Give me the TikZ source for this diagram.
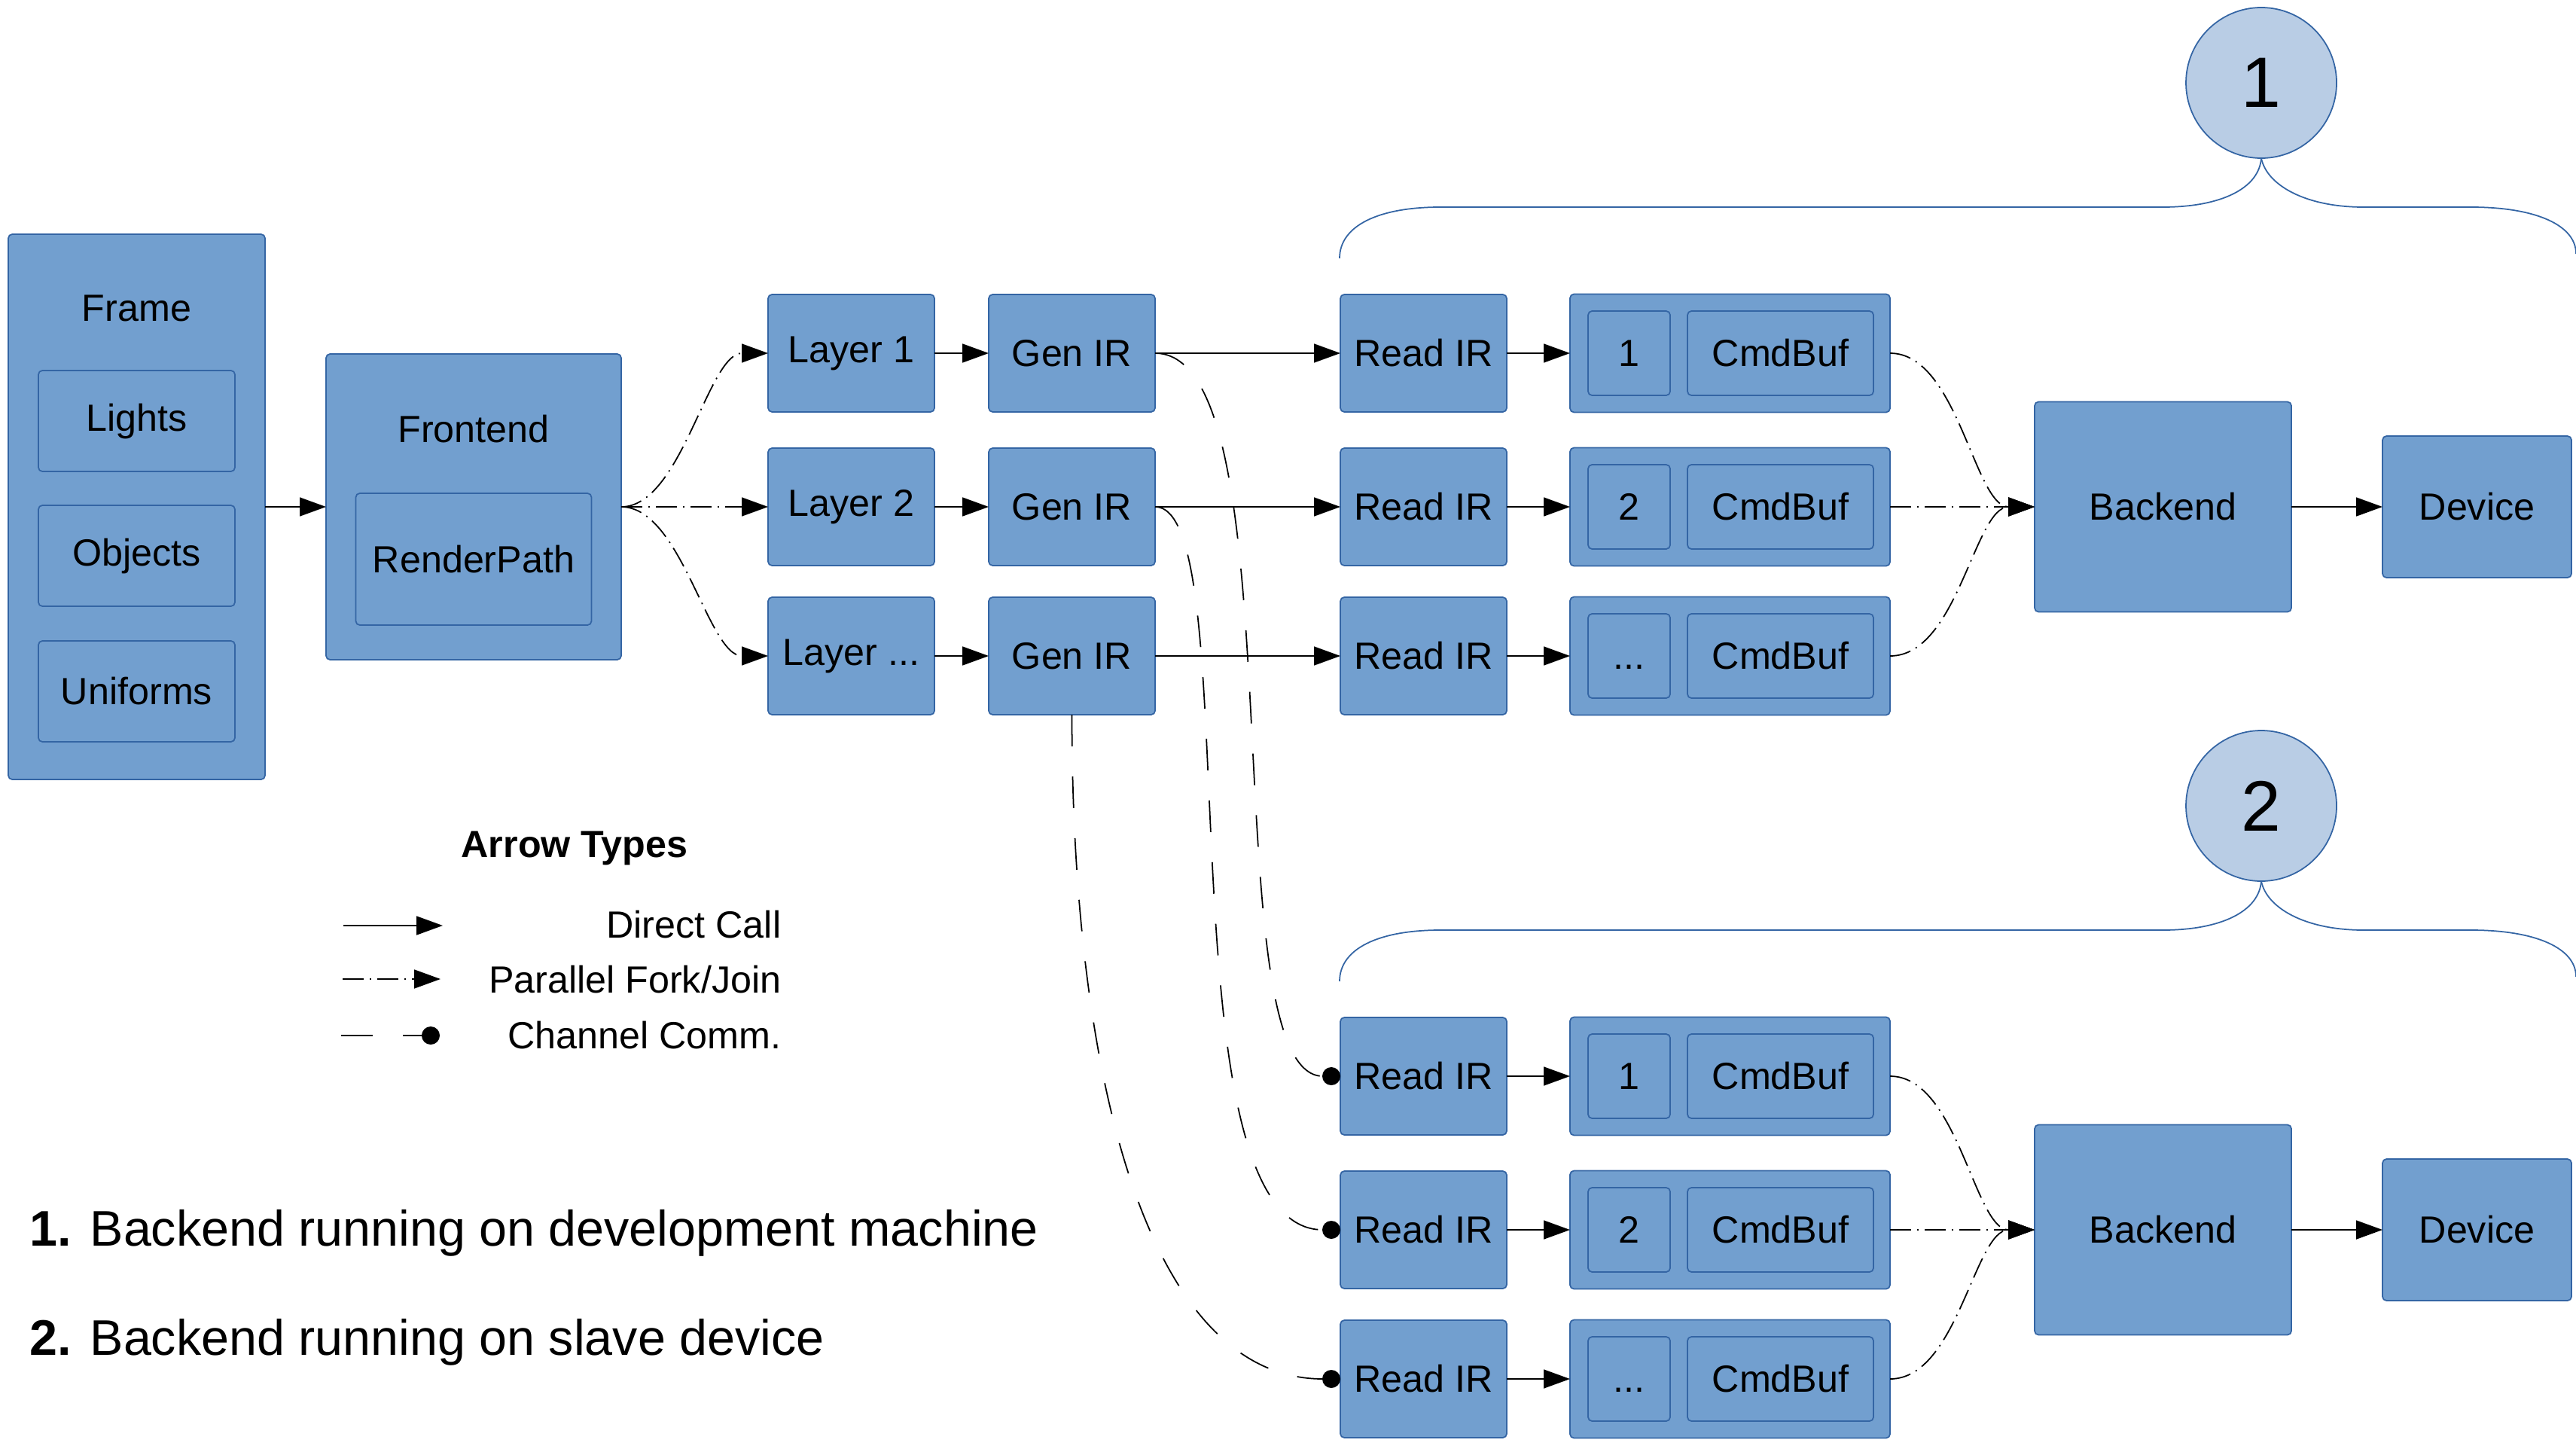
\documentclass[tikz,border=0pt]{standalone}
\usepackage{fontspec}
\setmainfont{Liberation Sans}
\usetikzlibrary{arrows.meta,positioning}

\definecolor{boxblue}{HTML}{729FCF}
\definecolor{lineblue}{HTML}{3465A4}
\definecolor{markblue}{HTML}{B9CDE5}

\tikzset{
  blk/.style={draw=lineblue, fill=boxblue, line width=0.5pt, rounded corners=1.5pt, inner sep=0pt, outer sep=0pt},
  stagebox/.style={blk, minimum width=2.21cm, minimum height=1.56cm},
  inbox/.style={blk, minimum width=2.61cm, minimum height=1.34cm},
  cmdbox/.style={blk, minimum width=4.25cm, minimum height=1.57cm},
  numbox/.style={blk, minimum width=1.09cm, minimum height=1.12cm, text height=10.2pt, text depth=0pt},
  bufbox/.style={blk, minimum width=2.47cm, minimum height=1.12cm},
  machine/.style={circle, draw=lineblue, fill=markblue, line width=0.5pt, minimum size=2cm,
    inner sep=0pt, outer sep=0pt, font=\fontsize{27}{32}\selectfont},
  txt/.style={inner sep=0pt},
  call/.style={->, line width=0.5pt},
  fork/.style={->, line width=0.5pt, dash pattern=on 0.28cm off 0.08cm on 0.02cm off 0.08cm},
  chan/.style={-{Circle[length=0.24cm,width=0.24cm]}, line width=0.5pt, dash pattern=on 0.42cm off 0.4cm},
  braceline/.style={draw=lineblue, line width=0.5pt}
}

\begin{document}
\begin{tikzpicture}[>={Triangle[length=0.35cm,width=0.25cm]}, node distance=1cm,
    font=\fontsize{14.3}{17}\selectfont]
\useasboundingbox (0,0) rectangle (34.21,-19.31);

% frame and frontend
\node[blk, minimum width=3.41cm, minimum height=7.24cm,
      label={[anchor=center,yshift=-0.98cm]north:Frame}] (frame) at (1.815,-6.73) {};
\node[inbox, below=1.81cm of frame.north] (lights) {Lights};
\node[inbox, below=0.45cm of lights] (objects) {Objects};
\node[inbox, below=0.46cm of objects] (uniforms) {Uniforms};
\node[blk, minimum width=3.92cm, minimum height=4.06cm, right=0.81cm of frame,
      label={[anchor=center,yshift=-1.0cm]north:Frontend}] (frontend) {};
\node[blk, minimum width=3.13cm, minimum height=1.75cm, below=1.85cm of frontend.north] (renderpath) {RenderPath};

% layers
\node[stagebox, right=1.95cm of frontend] (layerB) {Layer 2};
\node[stagebox, above=0.48cm of layerB] (layerA) {Layer 1};
\node[stagebox, below=0.42cm of layerB] (layerC) {Layer ...};
\node[stagebox, right=0.72cm of layerA] (genA) {Gen IR};
\node[stagebox, right=0.72cm of layerB] (genB) {Gen IR};
\node[stagebox, right=0.72cm of layerC] (genC) {Gen IR};

% backend 1
\node[stagebox, right=2.46cm of genA] (readA) {Read IR};
\node[stagebox, right=2.46cm of genB] (readB) {Read IR};
\node[stagebox, right=2.46cm of genC] (readC) {Read IR};
\node[cmdbox, right=0.84cm of readA] (bufA) {};
\node[numbox, right=0.24cm of bufA.west] (numA) {1};
\node[bufbox, right=0.23cm of numA] (cmdA) {CmdBuf};
\node[cmdbox, right=0.84cm of readB] (bufB) {};
\node[numbox, right=0.24cm of bufB.west] (numB) {2};
\node[bufbox, right=0.23cm of numB] (cmdB) {CmdBuf};
\node[cmdbox, right=0.84cm of readC] (bufC) {};
\node[numbox, right=0.24cm of bufC.west] (numC) {...};
\node[bufbox, right=0.23cm of numC] (cmdC) {CmdBuf};
\node[blk, minimum width=3.41cm, minimum height=2.79cm, right=1.92cm of bufB] (backA) {Backend};
\node[blk, minimum width=2.51cm, minimum height=1.88cm, right=1.21cm of backA] (devA) {Device};
\node[machine] (markA) at (30.03,-1.10) {1};

% backend 2
\node[stagebox, below=4.02cm of readC] (readD) {Read IR};
\node[stagebox, below=0.48cm of readD] (readE) {Read IR};
\node[stagebox, below=0.42cm of readE] (readF) {Read IR};
\node[cmdbox, right=0.84cm of readD] (bufD) {};
\node[numbox, right=0.24cm of bufD.west] (numD) {1};
\node[bufbox, right=0.23cm of numD] (cmdD) {CmdBuf};
\node[cmdbox, right=0.84cm of readE] (bufE) {};
\node[numbox, right=0.24cm of bufE.west] (numE) {2};
\node[bufbox, right=0.23cm of numE] (cmdE) {CmdBuf};
\node[cmdbox, right=0.84cm of readF] (bufF) {};
\node[numbox, right=0.24cm of bufF.west] (numF) {...};
\node[bufbox, right=0.23cm of numF] (cmdF) {CmdBuf};
\node[blk, minimum width=3.41cm, minimum height=2.79cm, right=1.92cm of bufE] (backB) {Backend};
\node[blk, minimum width=2.51cm, minimum height=1.88cm, right=1.21cm of backB] (devB) {Device};
\node[machine] (markB) at (30.03,-10.70) {2};

% braces
\draw[braceline] (markA.south) .. controls (30.00,-2.50) and (29.50,-2.75) .. (28.72,-2.75) -- (19.13,-2.75)
  .. controls (18.30,-2.75) and (17.79,-3.00) .. (17.79,-3.43);
\draw[braceline] (markA.south) .. controls (30.10,-2.45) and (30.60,-2.75) .. (31.39,-2.75) -- (32.81,-2.75)
  .. controls (33.70,-2.75) and (34.21,-3.00) .. (34.21,-3.37);
\draw[braceline] (markB.south) .. controls (30.00,-12.10) and (29.50,-12.35) .. (28.72,-12.35) -- (19.13,-12.35)
  .. controls (18.30,-12.35) and (17.79,-12.60) .. (17.79,-13.03);
\draw[braceline] (markB.south) .. controls (30.10,-12.05) and (30.60,-12.35) .. (31.39,-12.35) -- (32.81,-12.35)
  .. controls (33.70,-12.35) and (34.21,-12.60) .. (34.21,-12.97);

% connectors
\path
  (frame) edge[call] (frontend)
  (frontend) edge[fork, out=0, in=180, out distance=0.8cm, in distance=0.8cm] (layerA)
             edge[fork] (layerB)
             edge[fork, out=0, in=180, out distance=0.8cm, in distance=0.8cm] (layerC)
  (layerA) edge[call] (genA)
  (layerB) edge[call] (genB)
  (layerC) edge[call] (genC)
  (genA) edge[call] (readA)
         edge[chan, out=0, in=180, out distance=1.93cm, in distance=1.74cm] (readD)
  (genB) edge[call] (readB)
         edge[chan, out=0, in=180, out distance=1.26cm, in distance=2.43cm] (readE)
  (genC) edge[call] (readC)
         edge[chan, out=-90, in=180, out distance=5cm, in distance=2.5cm] (readF)
  (readA) edge[call] (bufA)
  (readB) edge[call] (bufB)
  (readC) edge[call] (bufC)
  (readD) edge[call] (bufD)
  (readE) edge[call] (bufE)
  (readF) edge[call] (bufF)
  (bufA) edge[fork, out=0, in=180, out distance=0.9cm, in distance=0.8cm] (backA)
  (bufB) edge[fork] (backA)
  (bufC) edge[fork, out=0, in=180, out distance=0.9cm, in distance=0.8cm] (backA)
  (bufD) edge[fork, out=0, in=180, out distance=0.9cm, in distance=0.8cm] (backB)
  (bufE) edge[fork] (backB)
  (bufF) edge[fork, out=0, in=180, out distance=0.9cm, in distance=0.8cm] (backB)
  (backA) edge[call] (devA)
  (backB) edge[call] (devB);

% legend
\node[txt, anchor=base, font=\fontsize{14.3}{17}\selectfont\bfseries] (legend) at (7.63,-11.38) {Arrow Types};
\node[txt, anchor=base east] (callText) at (10.38,-12.45) {Direct Call};
\node[txt, anchor=base east] (forkText) at (10.38,-13.18) {Parallel Fork/Join};
\node[txt, anchor=base east] (chanText) at (10.38,-13.92) {Channel Comm.};
\coordinate (callL) at (4.56,-12.29);
\coordinate (callR) at (5.88,-12.29);
\coordinate (forkL) at (4.55,-13.00);
\coordinate (forkR) at (5.85,-13.00);
\coordinate (chanL) at (4.53,-13.75);
\coordinate (chanR) at (5.84,-13.75);
\draw[call] (callL) -- (callR);
\draw[fork] (forkL) -- (forkR);
\draw[chan] (chanL) -- (chanR);

% notes
\node[txt, anchor=base west, font=\fontsize{18.9}{23}\selectfont] (noteA) at (0.39,-16.54)
  {\textbf{1.} Backend running on development machine};
\node[txt, anchor=base west, font=\fontsize{18.9}{23}\selectfont] (noteB) at (0.39,-17.99)
  {\textbf{2.} Backend running on slave device};
\end{tikzpicture}
\end{document}
